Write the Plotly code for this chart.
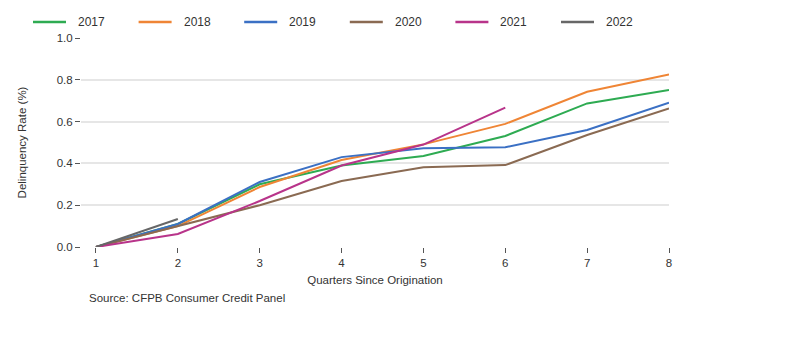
import plotly.graph_objects as go

quarters = [1, 2, 3, 4, 5, 6, 7, 8]
rate_2017 = [0.0, 0.11, 0.30, 0.39, 0.435, 0.531, 0.687, 0.751]
rate_2018 = [0.0, 0.10, 0.287, 0.416, 0.491, 0.589, 0.743, 0.826]
rate_2019 = [0.0, 0.11, 0.311, 0.43, 0.472, 0.477, 0.56, 0.69]
rate_2020 = [0.0, 0.10, 0.20, 0.316, 0.381, 0.392, 0.536, 0.663]
rate_2021 = [0.0, 0.062, 0.22, 0.39, 0.49, 0.667]
rate_2022 = [0.0, 0.134]

series = [
    ("2017", rate_2017, "#2eab52"),
    ("2018", rate_2018, "#ef8535"),
    ("2019", rate_2019, "#3b70c4"),
    ("2020", rate_2020, "#8a6a52"),
    ("2021", rate_2021, "#b8348a"),
    ("2022", rate_2022, "#676767"),
]

W, H = 800, 338
L, R, T, B = 81, 131, 38, 91
PW, PH = W - L - R, H - T - B


def px_x(x):
    return (x - L) / PW


def px_y(y):
    return (H - B - y) / PH


fig = go.Figure()
for name, vals, color in series:
    fig.add_trace(go.Scatter(
        x=quarters[:len(vals)], y=vals, name=name, mode="lines",
        line=dict(color=color, width=2),
    ))

font_family = "Liberation Sans, Arial, sans-serif"

# horizontal legend row across the top
shapes = []
annotations = []
for i, (name, _, color) in enumerate(series):
    x0 = 33 + i * 105.6
    shapes.append(dict(
        type="line", xref="paper", yref="paper",
        x0=px_x(x0), x1=px_x(x0 + 33), y0=px_y(22), y1=px_y(22),
        line=dict(color=color, width=2.5),
    ))
    annotations.append(dict(
        text=name, xref="paper", yref="paper", x=px_x(x0 + 43), y=px_y(22),
        xanchor="left", yanchor="middle", showarrow=False,
        font=dict(size=12, color="#333"),
    ))

annotations.append(dict(
    text="Source: CFPB Consumer Credit Panel", xref="paper", yref="paper",
    x=px_x(87), y=px_y(298), xanchor="left", yanchor="middle", showarrow=False,
    font=dict(size=11.5, color="#333"),
))

fig.update_layout(
    width=W, height=H,
    margin=dict(l=L, r=R, t=T, b=B, autoexpand=False),
    paper_bgcolor="white", plot_bgcolor="white",
    font=dict(family=font_family, size=11, color="#333"),
    showlegend=False,
    xaxis=dict(
        range=[0.817, 8.0], tickmode="array", tickvals=quarters,
        showgrid=False, zeroline=False, showline=False, automargin=False,
        ticks="outside", ticklen=5, tickcolor="#555", tickfont=dict(size=11.5),
        title=dict(text="Quarters Since Origination", font=dict(size=11.5, color="#333"), standoff=8),
    ),
    yaxis=dict(
        range=[0, 1.0], tickvals=[0, 0.2, 0.4, 0.6, 0.8, 1.0], tickformat=".1f",
        showgrid=True, gridcolor="#e6e6e6", gridwidth=1.5,
        zeroline=False, showline=False, automargin=False,
        ticks="outside", ticklen=5, tickcolor="#555", tickfont=dict(size=11.5),
        title=dict(text="Delinquency Rate (%)", font=dict(size=11.5, color="#333"), standoff=27),
    ),
    shapes=shapes,
    annotations=annotations,
)

fig.write_html("out.html")
